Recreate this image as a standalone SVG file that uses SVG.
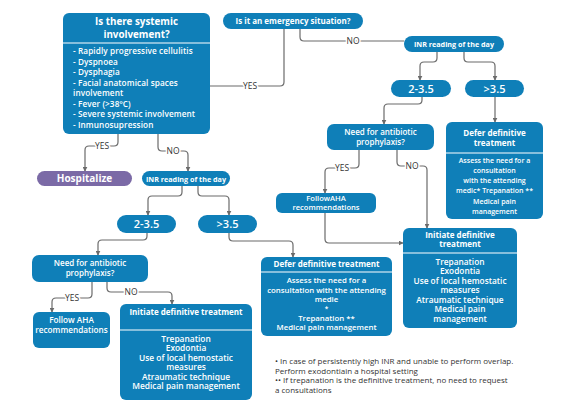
<svg xmlns="http://www.w3.org/2000/svg" width="567" height="407" viewBox="0 0 567 407">
<defs>
<marker id="ah" viewBox="0 0 8 8" refX="7" refY="4" markerWidth="5" markerHeight="5" orient="auto" markerUnits="userSpaceOnUse">
<path d="M0,0 L8,4 L0,8 z" fill="#6b6b6b"/>
</marker>
<style>
.box{fill:#0f7fb8}
.hosp{fill:#7b6aa6}
.div{stroke:#ffffff;stroke-width:1.2}
.t{font-family:"Open Sans","Liberation Sans",sans-serif;fill:#ffffff;font-weight:600;text-anchor:middle}
.h{font-weight:700}
.c{fill:none;stroke:#6b6b6b;stroke-width:1.2}
.a{marker-end:url(#ah)}
.lab{font-family:"Open Sans","Liberation Sans",sans-serif;font-size:8.5px;fill:#333333;text-anchor:middle;stroke:#ffffff;stroke-width:3;paint-order:stroke}
.fn{font-family:"Open Sans","Liberation Sans",sans-serif;font-size:8px;fill:#333333}
</style>
</defs>
<rect width="567" height="407" fill="#ffffff"/>
<g id="connectors">
<path class="c" d="M284,29 V82 Q284,86 280,86 H210"/>
<path class="c" d="M300,29 V37 Q300,41 304,41 H404"/>
<path class="c a" d="M437,52 V58 Q437,62 433,62 H424 Q420,62 420,66 V80"/>
<path class="c a" d="M464,52 V58 Q464,62 468,62 H491 Q495,62 495,66 V80"/>
<path class="c a" d="M495,97 V122"/>
<path class="c a" d="M422,97 V100 Q422,104 418,104 H388 Q384,104 384,108 V124"/>
<path class="c a" d="M359,150 V164 Q359,168 355,168 H329 Q325,168 325,172 V193"/>
<path class="c a" d="M397,150 V162 Q397,166 401,166 H423 Q427,166 427,170 V228"/>
<path class="c a" d="M325,213 V239 Q325,243 329,243 H403"/>
<path class="c a" d="M118,134 V142 Q118,146 114,146 H89 Q85,146 85,150 V171"/>
<path class="c a" d="M158,134 V147 Q158,151 162,151 H184 Q188,151 188,155 V171"/>
<path class="c a" d="M182,186 V192 Q182,196 178,196 H152 Q148,196 148,200 V215"/>
<path class="c a" d="M198,186 V192 Q198,196 202,196 H225 Q229,196 229,200 V215"/>
<path class="c a" d="M147,233 V236 Q147,240 143,240 H102 Q98,240 98,244 V255"/>
<path class="c a" d="M229,233 V237 Q229,241 233,241 H289 Q293,241 293,245 V257"/>
<path class="c a" d="M92,282 V294 Q92,298 88,298 H56 Q52,298 52,302 V312"/>
<path class="c a" d="M107,282 V288 Q107,292 111,292 H168 Q172,292 172,296 V304"/>
<text class="lab" x="250" y="89">YES</text>
<text class="lab" x="353" y="44">NO</text>
<text class="lab" x="342" y="171">YES</text>
<text class="lab" x="412" y="169">NO</text>
<text class="lab" x="102" y="149">YES</text>
<text class="lab" x="173" y="154">NO</text>
<text class="lab" x="72" y="301">YES</text>
<text class="lab" x="131" y="295">NO</text>
</g>
<g id="systemic">
<rect class="box" x="63" y="13" width="147" height="121" rx="6"/>
<line class="div" x1="63" y1="43" x2="210" y2="43"/>
<text class="t h" font-size="9.8" x="136.5" y="24.5">Is there systemic</text>
<text class="t h" font-size="9.8" x="136.5" y="37.5">involvement?</text>
<g class="t" font-size="8.2" letter-spacing="0.1" style="text-anchor:start">
<text x="73" y="54">- Rapidly progressive cellulitis</text>
<text x="73" y="64.5">- Dyspnoea</text>
<text x="73" y="75">- Dysphagia</text>
<text x="73" y="85.5">- Facial anatomical spaces</text>
<text x="73" y="96">involvement</text>
<text x="73" y="106.5">- Fever (&gt;38ºC)</text>
<text x="73" y="117">- Severe systemic involvement</text>
<text x="73" y="127.5">- Inmunosupression</text>
</g>
</g>
<g id="emergency">
<rect class="box" x="223" y="13" width="140" height="16" rx="8"/>
<text class="t h" font-size="8" x="293" y="24">Is it an emergency situation?</text>
</g>
<g id="inr-right">
<rect class="box" x="404" y="36" width="100" height="16" rx="8"/>
<text class="t h" font-size="7.2" x="454" y="47">INR reading of the day</text>
</g>
<g id="range-right-low">
<rect class="box" x="391" y="80" width="60" height="17" rx="8.5"/>
<text class="t" font-size="11" font-weight="500" x="421" y="92.5">2-3.5</text>
</g>
<g id="range-right-high">
<rect class="box" x="465" y="80" width="59" height="17" rx="8.5"/>
<text class="t" font-size="11" font-weight="500" x="494.5" y="92.5">&gt;3.5</text>
</g>
<g id="defer-right">
<rect class="box" x="446" y="122" width="97" height="97" rx="6"/>
<line class="div" x1="446" y1="153" x2="543" y2="153"/>
<text class="t h" font-size="8" x="494.5" y="136">Defer definitive</text>
<text class="t h" font-size="8" x="494.5" y="146">treatment</text>
<g class="t" font-size="7">
<text x="494.5" y="163">Assess the need for a</text>
<text x="494.5" y="173">consultation</text>
<text x="494.5" y="183">with the attending</text>
<text x="494.5" y="193">medic* Trepanation **</text>
<text x="494.5" y="204">Medical pain</text>
<text x="494.5" y="214">management</text>
</g>
</g>
<g id="antibiotic-right">
<rect class="box" x="327" y="124" width="107" height="26" rx="7"/>
<text class="t" font-size="8" x="380.5" y="135">Need for antibiotic</text>
<text class="t" font-size="8" x="380.5" y="144.5">prophylaxis?</text>
</g>
<g id="aha-right">
<rect class="box" x="276" y="193" width="100" height="20" rx="6"/>
<text class="t" font-size="7.6" x="326" y="201">FollowAHA</text>
<text class="t" font-size="7.6" x="326" y="210">recommendations</text>
</g>
<g id="initiate-right">
<rect class="box" x="403" y="228" width="114" height="100" rx="6"/>
<line class="div" x1="403" y1="253" x2="517" y2="253"/>
<text class="t h" font-size="8" x="460" y="237.5">Initiate definitive</text>
<text class="t h" font-size="8" x="460" y="247">treatment</text>
<g class="t" font-size="8.3" font-weight="500">
<text x="460" y="264.5">Trepanation</text>
<text x="460" y="274">Exodontia</text>
<text x="460" y="283.5">Use of local hemostatic</text>
<text x="460" y="293">measures</text>
<text x="460" y="302.5">Atraumatic technique</text>
<text x="460" y="312">Medical pain</text>
<text x="460" y="321.5">management</text>
</g>
</g>
<g id="hospitalize">
<rect class="hosp" x="37" y="171" width="95" height="15" rx="7.5"/>
<text class="t h" font-size="10" x="84.5" y="182">Hospitalize</text>
</g>
<g id="inr-left">
<rect class="box" x="142" y="171" width="88" height="15" rx="7.5"/>
<text class="t h" font-size="7.2" x="186" y="181.5">INR reading of the day</text>
</g>
<g id="range-left-low">
<rect class="box" x="117" y="215" width="59" height="18" rx="9"/>
<text class="t" font-size="11" font-weight="500" x="146.5" y="228">2-3.5</text>
</g>
<g id="range-left-high">
<rect class="box" x="198" y="215" width="59" height="18" rx="9"/>
<text class="t" font-size="11" font-weight="500" x="227.5" y="228">&gt;3.5</text>
</g>
<g id="antibiotic-left">
<rect class="box" x="32" y="255" width="116" height="27" rx="7"/>
<text class="t" font-size="8" x="90" y="266">Need for antibiotic</text>
<text class="t" font-size="8" x="90" y="276">prophylaxis?</text>
</g>
<g id="aha-left">
<rect class="box" x="33" y="312" width="77" height="36" rx="6"/>
<text class="t" font-size="8.2" x="71.5" y="323">Follow AHA</text>
<text class="t" font-size="8.2" x="71.5" y="333">recommendations</text>
</g>
<g id="defer-left">
<rect class="box" x="261" y="257" width="131" height="79" rx="6"/>
<line class="div" x1="261" y1="272" x2="392" y2="272"/>
<text class="t h" font-size="8" x="326.5" y="266.5">Defer definitive treatment</text>
<g class="t" font-size="7.8" font-weight="500">
<text x="326.5" y="283">Assess the need for a</text>
<text x="326.5" y="292.5">consultation with the attending</text>
<text x="326.5" y="301.5">medie</text>
<text x="326.5" y="311" font-size="6.5">*</text>
<text x="326.5" y="320.5">Trepanation **</text>
<text x="326.5" y="330">Medical pain management</text>
</g>
</g>
<g id="initiate-left">
<rect class="box" x="120" y="304" width="132" height="96" rx="6"/>
<line class="div" x1="120" y1="330" x2="252" y2="330"/>
<text class="t h" font-size="8" x="186" y="314.5">Initiate definitive treatment</text>
<g class="t" font-size="8.4" font-weight="500">
<text x="186" y="341.5">Trepanation</text>
<text x="186" y="351">Exodontia</text>
<text x="186" y="360.5">Use of local hemostatic</text>
<text x="186" y="370">measures</text>
<text x="186" y="379.5">Atraumatic technique</text>
<text x="186" y="389">Medical pain management</text>
</g>
</g>
<g id="footnotes" class="fn">
<text x="275" y="364">• In case of persistently high INR and unable to perform overlap.</text>
<text x="275" y="373.5">Perform exodontiain a hospital setting</text>
<text x="275" y="383">•• If trepanation is the definitive treatment, no need to request</text>
<text x="275" y="392.5">a consultations</text>
</g>
</svg>
